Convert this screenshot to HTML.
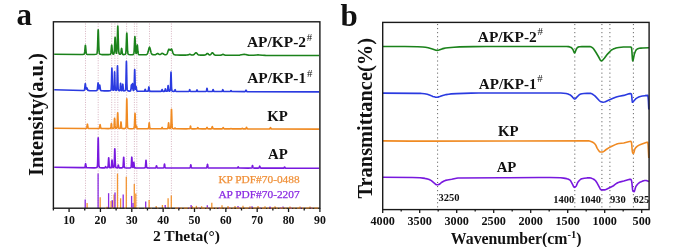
<!DOCTYPE html>
<html><head><meta charset="utf-8"><style>
html,body{margin:0;padding:0;background:#fff;}
svg{display:block;filter:blur(0.3px);}
text{font-family:"Liberation Serif",serif;}
</style></head><body>
<svg width="685" height="247" viewBox="0 0 685 247">
<rect width="685" height="247" fill="#fff"/>
<line x1="85.50" y1="23.5" x2="85.50" y2="207" stroke="#d2aab9" stroke-width="0.9" stroke-dasharray="1 1.45"/>
<line x1="98.20" y1="23.5" x2="98.20" y2="207" stroke="#d2aab9" stroke-width="0.9" stroke-dasharray="1 1.45"/>
<line x1="111.70" y1="23.5" x2="111.70" y2="207" stroke="#d2aab9" stroke-width="0.9" stroke-dasharray="1 1.45"/>
<line x1="114.90" y1="23.5" x2="114.90" y2="207" stroke="#d2aab9" stroke-width="0.9" stroke-dasharray="1 1.45"/>
<line x1="117.80" y1="23.5" x2="117.80" y2="207" stroke="#d2aab9" stroke-width="0.9" stroke-dasharray="1 1.45"/>
<line x1="126.60" y1="23.5" x2="126.60" y2="207" stroke="#d2aab9" stroke-width="0.9" stroke-dasharray="1 1.45"/>
<line x1="134.40" y1="23.5" x2="134.40" y2="207" stroke="#d2aab9" stroke-width="0.9" stroke-dasharray="1 1.45"/>
<line x1="136.80" y1="23.5" x2="136.80" y2="207" stroke="#d2aab9" stroke-width="0.9" stroke-dasharray="1 1.45"/>
<line x1="149.50" y1="23.5" x2="149.50" y2="207" stroke="#d2aab9" stroke-width="0.9" stroke-dasharray="1 1.45"/>
<line x1="171.40" y1="23.5" x2="171.40" y2="207" stroke="#d2aab9" stroke-width="0.9" stroke-dasharray="1 1.45"/>
<line x1="437.60" y1="24" x2="437.60" y2="208.5" stroke="#555" stroke-width="0.95" stroke-dasharray="1.1 2.95"/>
<line x1="574.80" y1="24" x2="574.80" y2="208.5" stroke="#555" stroke-width="0.95" stroke-dasharray="1.1 2.95"/>
<line x1="601.90" y1="24" x2="601.90" y2="208.5" stroke="#555" stroke-width="0.95" stroke-dasharray="1.1 2.95"/>
<line x1="609.90" y1="24" x2="609.90" y2="208.5" stroke="#555" stroke-width="0.95" stroke-dasharray="1.1 2.95"/>
<line x1="633.40" y1="24" x2="633.40" y2="208.5" stroke="#555" stroke-width="0.95" stroke-dasharray="1.1 2.95"/>
<line x1="87.10" y1="208.20" x2="87.10" y2="203.00" stroke="#f39433" stroke-width="1.3"/>
<line x1="100.20" y1="208.20" x2="100.20" y2="197.30" stroke="#f39433" stroke-width="1.3"/>
<line x1="107.10" y1="208.20" x2="107.10" y2="206.80" stroke="#f39433" stroke-width="1.3"/>
<line x1="111.10" y1="208.20" x2="111.10" y2="201.10" stroke="#f39433" stroke-width="1.3"/>
<line x1="114.10" y1="208.20" x2="114.10" y2="194.50" stroke="#f39433" stroke-width="1.3"/>
<line x1="117.50" y1="208.20" x2="117.50" y2="173.60" stroke="#f39433" stroke-width="1.3"/>
<line x1="120.60" y1="208.20" x2="120.60" y2="198.30" stroke="#f39433" stroke-width="1.3"/>
<line x1="126.30" y1="208.20" x2="126.30" y2="176.80" stroke="#f39433" stroke-width="1.3"/>
<line x1="134.30" y1="208.20" x2="134.30" y2="184.00" stroke="#f39433" stroke-width="1.3"/>
<line x1="135.80" y1="208.20" x2="135.80" y2="193.60" stroke="#f39433" stroke-width="1.3"/>
<line x1="149.10" y1="208.20" x2="149.10" y2="199.90" stroke="#f39433" stroke-width="1.3"/>
<line x1="156.20" y1="208.20" x2="156.20" y2="206.00" stroke="#f39433" stroke-width="1.3"/>
<line x1="162.40" y1="208.20" x2="162.40" y2="205.00" stroke="#f39433" stroke-width="1.3"/>
<line x1="168.10" y1="208.20" x2="168.10" y2="198.30" stroke="#f39433" stroke-width="1.3"/>
<line x1="171.30" y1="208.20" x2="171.30" y2="195.40" stroke="#f39433" stroke-width="1.3"/>
<line x1="192.20" y1="208.20" x2="192.20" y2="206.00" stroke="#f39433" stroke-width="1.3"/>
<line x1="196.40" y1="208.20" x2="196.40" y2="205.80" stroke="#f39433" stroke-width="1.3"/>
<line x1="201.60" y1="208.20" x2="201.60" y2="206.20" stroke="#f39433" stroke-width="1.3"/>
<line x1="211.80" y1="208.20" x2="211.80" y2="202.80" stroke="#f39433" stroke-width="1.3"/>
<line x1="222.00" y1="208.20" x2="222.00" y2="205.30" stroke="#f39433" stroke-width="1.3"/>
<line x1="228.00" y1="208.20" x2="228.00" y2="206.00" stroke="#f39433" stroke-width="1.3"/>
<line x1="235.00" y1="208.20" x2="235.00" y2="206.00" stroke="#f39433" stroke-width="1.3"/>
<line x1="243.00" y1="208.20" x2="243.00" y2="205.80" stroke="#f39433" stroke-width="1.3"/>
<line x1="250.00" y1="208.20" x2="250.00" y2="206.30" stroke="#f39433" stroke-width="1.3"/>
<line x1="258.00" y1="208.20" x2="258.00" y2="206.10" stroke="#f39433" stroke-width="1.3"/>
<line x1="265.00" y1="208.20" x2="265.00" y2="206.30" stroke="#f39433" stroke-width="1.3"/>
<line x1="275.00" y1="208.20" x2="275.00" y2="206.20" stroke="#f39433" stroke-width="1.3"/>
<line x1="290.00" y1="208.20" x2="290.00" y2="206.40" stroke="#f39433" stroke-width="1.3"/>
<line x1="300.00" y1="208.20" x2="300.00" y2="206.50" stroke="#f39433" stroke-width="1.3"/>
<line x1="310.00" y1="208.20" x2="310.00" y2="206.40" stroke="#f39433" stroke-width="1.3"/>
<line x1="85.20" y1="208.20" x2="85.20" y2="199.60" stroke="#8a2be2" stroke-width="1.3"/>
<line x1="98.10" y1="208.20" x2="98.10" y2="173.60" stroke="#8a2be2" stroke-width="1.3"/>
<line x1="108.60" y1="208.20" x2="108.60" y2="193.20" stroke="#8a2be2" stroke-width="1.3"/>
<line x1="112.40" y1="208.20" x2="112.40" y2="200.20" stroke="#8a2be2" stroke-width="1.3"/>
<line x1="115.00" y1="208.20" x2="115.00" y2="192.60" stroke="#8a2be2" stroke-width="1.3"/>
<line x1="123.20" y1="208.20" x2="123.20" y2="194.50" stroke="#8a2be2" stroke-width="1.3"/>
<line x1="131.60" y1="208.20" x2="131.60" y2="195.90" stroke="#8a2be2" stroke-width="1.3"/>
<line x1="133.00" y1="208.20" x2="133.00" y2="203.00" stroke="#8a2be2" stroke-width="1.3"/>
<line x1="145.70" y1="208.20" x2="145.70" y2="201.60" stroke="#8a2be2" stroke-width="1.3"/>
<line x1="165.20" y1="208.20" x2="165.20" y2="205.00" stroke="#8a2be2" stroke-width="1.3"/>
<line x1="191.10" y1="208.20" x2="191.10" y2="205.00" stroke="#8a2be2" stroke-width="1.3"/>
<line x1="207.30" y1="208.20" x2="207.30" y2="205.30" stroke="#8a2be2" stroke-width="1.3"/>
<line x1="238.00" y1="208.20" x2="238.00" y2="206.00" stroke="#8a2be2" stroke-width="1.3"/>
<line x1="252.00" y1="208.20" x2="252.00" y2="206.20" stroke="#8a2be2" stroke-width="1.3"/>
<line x1="270.00" y1="208.20" x2="270.00" y2="206.50" stroke="#8a2be2" stroke-width="1.3"/>
<line x1="283.00" y1="208.20" x2="283.00" y2="206.60" stroke="#8a2be2" stroke-width="1.3"/>
<path d="M54.20,54.31 L80.20,54.47 L82.88,54.41 L83.83,54.29 L84.03,54.20 L84.25,54.00 L84.45,53.47 L84.56,52.99 L84.77,51.40 L85.19,46.47 L85.30,45.61 L85.40,45.30 L85.50,45.62 L85.61,46.48 L86.14,52.32 L86.34,53.48 L86.45,53.80 L86.66,54.14 L86.87,54.27 L87.08,54.34 L88.20,54.46 L90.20,54.54 L94.20,54.56 L95.89,54.31 L96.52,54.09 L96.83,53.79 L97.05,53.22 L97.25,51.80 L97.36,50.50 L97.57,46.21 L97.99,32.87 L98.09,30.55 L98.20,29.70 L98.31,30.55 L98.41,32.88 L98.83,46.22 L99.04,50.51 L99.25,52.68 L99.46,53.59 L99.67,53.95 L99.98,54.17 L100.41,54.32 L102.20,54.61 L108.20,54.65 L109.81,54.51 L110.33,54.36 L110.55,54.14 L110.65,53.93 L110.86,53.10 L110.97,52.39 L111.49,46.32 L111.59,45.43 L111.70,45.10 L111.81,45.34 L111.91,46.23 L112.33,51.33 L112.58,53.17 L112.75,53.76 L112.96,54.08 L113.11,54.16 L113.31,54.18 L113.53,54.14 L113.73,54.01 L113.94,53.64 L114.11,52.93 L114.36,50.52 L114.89,39.45 L115.00,37.83 L115.10,37.28 L115.20,37.85 L115.28,38.90 L115.70,47.99 L115.91,51.11 L116.15,52.80 L116.25,53.10 L116.33,53.20 L116.44,53.21 L116.57,53.00 L116.75,52.16 L116.99,49.23 L117.20,43.96 L117.62,28.78 L117.69,27.03 L117.80,26.07 L117.91,27.05 L118.01,29.72 L118.53,47.89 L118.75,51.48 L118.85,52.47 L119.08,53.56 L119.19,53.78 L119.38,54.01 L119.61,54.15 L119.92,54.24 L120.23,54.25 L120.44,54.15 L120.66,53.82 L120.76,53.50 L120.97,52.43 L121.39,49.21 L121.50,48.62 L121.60,48.40 L121.70,48.62 L121.81,49.21 L122.33,53.23 L122.55,54.03 L122.75,54.39 L122.97,54.54 L123.39,54.63 L123.49,54.53 L124.28,54.50 L125.02,54.37 L125.22,54.27 L125.44,54.06 L125.64,53.57 L125.86,52.32 L126.06,49.58 L126.59,35.78 L126.69,33.75 L126.80,33.00 L126.91,33.75 L127.01,35.78 L127.53,49.59 L127.64,51.20 L127.85,53.09 L128.06,53.89 L128.20,54.12 L128.38,54.28 L128.90,54.50 L130.20,54.78 L132.38,54.63 L133.22,54.45 L133.43,54.33 L133.64,54.07 L133.85,53.41 L134.06,51.78 L134.20,49.89 L134.69,38.93 L134.79,37.23 L134.90,36.60 L134.99,37.06 L135.09,38.61 L135.62,50.09 L135.74,51.62 L135.95,53.10 L136.06,53.42 L136.15,53.52 L136.20,53.52 L136.35,53.24 L136.47,52.73 L136.69,51.08 L137.10,45.97 L137.21,45.15 L137.30,44.92 L137.41,45.27 L137.51,46.19 L137.93,51.44 L138.20,53.45 L138.35,54.08 L138.56,54.44 L138.88,54.62 L139.50,54.72 L142.20,54.81 L145.25,54.74 L146.25,54.63 L146.75,54.46 L147.00,54.29 L147.25,54.02 L147.50,53.62 L147.75,53.05 L148.20,51.56 L149.00,48.18 L149.25,47.46 L149.50,47.20 L149.75,47.46 L150.00,48.18 L151.00,52.31 L151.25,53.06 L151.60,53.81 L152.00,54.31 L152.35,54.53 L152.85,54.66 L153.75,54.75 L154.85,54.75 L155.60,54.61 L156.10,54.37 L157.10,53.61 L157.40,53.46 L157.70,53.47 L158.00,53.58 L158.85,54.21 L159.20,54.41 L159.50,54.51 L159.85,54.52 L160.40,54.36 L160.85,54.09 L161.60,53.54 L161.90,53.39 L162.20,53.34 L162.60,53.43 L163.90,54.28 L164.60,54.59 L165.40,54.70 L165.75,54.68 L166.10,54.61 L166.40,54.47 L166.65,54.28 L166.90,54.00 L167.15,53.59 L167.60,52.52 L168.40,50.06 L168.65,49.50 L168.80,49.29 L169.00,49.18 L169.15,49.23 L169.90,50.12 L170.20,50.23 L170.50,50.06 L171.15,49.15 L171.40,49.01 L171.50,49.03 L171.65,49.17 L171.90,49.66 L173.00,53.04 L173.40,53.88 L173.75,54.34 L174.15,54.63 L174.65,54.80 L175.25,54.88 L177.00,55.00 L180.20,55.08 L185.70,55.10 L186.95,55.06 L187.95,54.91 L189.20,54.38 L189.70,54.27 L190.20,54.38 L190.95,54.72 L191.50,54.91 L192.10,55.00 L192.70,54.99 L193.30,54.86 L193.90,54.56 L194.45,54.07 L195.45,52.96 L195.70,52.78 L196.00,52.69 L196.30,52.78 L196.60,53.01 L197.50,54.05 L198.10,54.60 L198.70,54.92 L199.30,55.06 L200.50,55.13 L202.90,55.16 L204.20,55.14 L204.90,55.05 L205.65,54.79 L206.15,54.41 L206.90,53.69 L207.15,53.53 L207.40,53.47 L207.65,53.52 L207.90,53.68 L208.65,54.38 L209.15,54.73 L209.65,54.89 L209.90,54.90 L210.20,54.83 L210.65,54.57 L211.15,54.03 L211.90,53.00 L212.15,52.76 L212.40,52.68 L212.65,52.77 L212.90,53.01 L213.90,54.37 L214.40,54.81 L214.65,54.94 L215.15,55.09 L216.40,55.18 L219.50,55.21 L220.75,55.14 L221.50,54.93 L222.50,54.42 L223.00,54.30 L223.50,54.42 L224.50,54.93 L225.00,55.10 L225.75,55.21 L227.00,55.24 L234.20,55.27 L237.95,55.22 L239.82,55.08 L243.00,54.50 L244.20,54.40 L245.45,54.51 L247.38,54.90 L248.57,55.09 L249.82,55.21 L251.12,55.26 L253.57,55.21 L256.75,54.94 L258.00,54.89 L259.20,54.95 L262.38,55.24 L265.50,55.35 L319.10,55.50" fill="none" stroke="#1b821b" stroke-width="1.6" stroke-linejoin="round"/>
<path d="M54.20,89.82 L82.20,90.53 L83.21,90.48 L83.88,90.40 L84.06,90.34 L84.25,90.18 L84.42,89.85 L84.54,89.43 L84.76,87.96 L85.11,84.53 L85.21,83.84 L85.30,83.63 L85.44,84.10 L85.87,88.01 L86.06,88.95 L86.20,89.15 L86.34,89.03 L86.72,88.05 L86.82,87.91 L86.92,87.88 L87.11,88.19 L87.69,89.95 L87.80,90.15 L88.03,90.39 L88.36,90.56 L89.60,90.63 L94.20,90.71 L96.48,90.61 L96.86,90.46 L97.06,90.28 L97.25,89.84 L97.34,89.43 L97.53,88.08 L97.91,83.90 L98.00,83.17 L98.10,82.89 L98.19,83.14 L98.29,83.85 L98.67,87.77 L98.86,88.71 L98.95,88.78 L99.10,88.40 L99.53,85.58 L99.62,85.17 L99.72,85.07 L99.80,85.27 L99.90,85.81 L100.40,89.39 L100.60,90.11 L100.70,90.31 L100.90,90.52 L101.20,90.67 L102.20,90.77 L104.20,90.84 L108.20,90.89 L110.10,90.71 L110.40,90.62 L110.78,90.41 L111.00,89.99 L111.15,89.17 L111.22,88.37 L111.45,83.24 L111.75,71.01 L111.83,68.88 L111.90,68.10 L111.97,68.88 L112.05,71.02 L112.42,85.38 L112.58,88.25 L112.72,89.54 L112.88,90.03 L113.03,90.21 L113.33,90.30 L113.55,90.21 L113.70,89.97 L113.78,89.72 L113.92,88.65 L114.08,86.25 L114.45,74.24 L114.53,72.46 L114.60,71.80 L114.67,72.46 L114.75,74.25 L115.05,84.52 L115.28,88.68 L115.42,89.76 L115.58,90.17 L115.70,90.30 L115.85,90.37 L116.22,90.34 L116.40,90.23 L116.53,90.04 L116.67,89.49 L116.83,88.07 L116.90,86.77 L117.05,82.55 L117.35,69.10 L117.42,66.76 L117.50,65.90 L117.58,66.76 L117.65,69.10 L118.03,85.03 L118.17,88.20 L118.25,89.04 L118.40,89.95 L118.47,90.16 L118.62,90.40 L118.85,90.56 L119.17,90.66 L119.40,90.67 L119.62,90.62 L119.78,90.46 L119.92,90.16 L120.15,88.43 L120.45,84.25 L120.53,83.53 L120.60,83.26 L120.67,83.52 L120.75,84.24 L121.12,89.13 L121.28,90.10 L121.42,90.52 L121.53,90.64 L121.65,90.70 L121.90,90.65 L122.05,90.42 L122.17,89.98 L122.35,88.68 L122.65,85.02 L122.72,84.38 L122.80,84.15 L122.88,84.39 L122.95,85.04 L123.33,89.44 L123.55,90.55 L123.70,90.80 L124.00,90.95 L124.08,90.80 L124.53,90.77 L124.90,90.67 L125.20,90.52 L125.28,90.43 L125.42,90.15 L125.50,89.89 L125.65,88.82 L125.72,87.78 L125.95,81.11 L126.25,65.19 L126.33,62.42 L126.40,61.40 L126.47,62.42 L126.55,65.19 L126.92,84.04 L127.15,88.83 L127.30,89.91 L127.45,90.34 L127.60,90.55 L127.83,90.71 L128.20,90.87 L129.60,91.09 L130.05,91.06 L130.43,90.92 L130.57,90.77 L130.72,90.42 L130.93,89.25 L131.25,85.74 L131.32,85.16 L131.40,84.93 L131.45,85.00 L131.53,85.42 L131.82,88.08 L131.90,88.34 L131.93,88.36 L131.97,88.29 L132.12,87.27 L132.38,84.16 L132.50,83.53 L132.60,83.98 L132.95,88.43 L133.12,89.82 L133.25,90.28 L133.43,90.50 L133.55,90.51 L133.65,90.44 L133.85,90.00 L134.03,88.67 L134.18,85.95 L134.55,72.25 L134.62,70.24 L134.70,69.49 L134.78,70.23 L134.85,72.24 L135.20,85.25 L135.30,87.41 L135.43,88.86 L135.53,89.24 L135.57,89.23 L135.65,89.02 L135.97,86.92 L136.05,86.63 L136.10,86.59 L136.12,86.62 L136.25,87.20 L136.50,89.24 L136.70,90.37 L136.93,90.87 L137.07,90.99 L137.15,91.13 L137.38,91.17 L138.20,91.23 L142.20,91.30 L143.78,91.29 L144.30,91.25 L144.53,91.10 L144.68,90.85 L145.05,89.56 L145.12,89.37 L145.20,89.30 L145.35,89.56 L145.72,90.86 L145.95,91.19 L146.18,91.29 L146.47,91.32 L147.62,91.29 L147.93,91.23 L148.07,91.13 L148.20,90.94 L148.38,90.31 L148.75,87.47 L148.82,87.05 L148.90,86.90 L148.97,87.05 L149.05,87.47 L149.35,89.88 L149.50,90.66 L149.72,91.15 L150.00,91.29 L150.62,91.36 L152.20,91.40 L158.20,91.42 L161.12,91.36 L161.35,91.28 L161.57,90.97 L161.95,89.75 L162.10,89.50 L162.25,89.75 L162.62,90.97 L162.85,91.28 L163.00,91.35 L163.30,91.37 L164.35,91.35 L164.57,91.29 L164.80,91.00 L164.95,90.55 L165.25,89.14 L165.32,88.89 L165.40,88.80 L165.47,88.89 L165.55,89.14 L165.93,90.77 L166.07,91.10 L166.20,91.23 L166.38,91.30 L166.97,91.28 L167.12,91.23 L167.28,91.10 L167.43,90.77 L167.50,90.46 L167.65,89.46 L167.95,86.34 L168.03,85.80 L168.10,85.60 L168.18,85.80 L168.25,86.35 L168.55,89.48 L168.78,90.67 L168.93,90.99 L169.07,91.10 L169.43,91.13 L169.80,91.01 L170.03,90.78 L170.18,90.35 L170.32,89.25 L170.40,88.24 L170.55,84.94 L170.85,74.57 L170.93,72.76 L171.00,72.10 L171.07,72.76 L171.15,74.57 L171.53,86.84 L171.75,89.96 L171.90,90.66 L172.12,91.02 L172.35,91.15 L172.65,91.25 L173.38,91.33 L173.45,91.43 L174.12,91.39 L174.43,91.25 L174.65,90.83 L174.95,89.84 L175.10,89.60 L175.25,89.84 L175.55,90.83 L175.70,91.15 L175.85,91.31 L176.15,91.41 L178.20,91.46 L186.20,91.48 L188.65,91.44 L188.95,91.34 L189.10,91.18 L189.25,90.85 L189.55,89.84 L189.70,89.60 L189.85,89.84 L190.15,90.85 L190.30,91.18 L190.45,91.34 L190.75,91.44 L194.20,91.50 L196.10,91.44 L196.32,91.32 L196.47,91.12 L196.85,90.10 L197.00,89.90 L197.15,90.11 L197.53,91.12 L197.75,91.38 L197.97,91.46 L200.20,91.51 L204.20,91.52 L205.80,91.46 L206.18,91.35 L206.40,91.00 L206.55,90.44 L206.85,88.71 L206.93,88.41 L207.00,88.30 L207.07,88.41 L207.15,88.71 L207.45,90.44 L207.68,91.17 L207.82,91.35 L207.97,91.43 L208.80,91.50 L211.45,91.52 L212.05,91.48 L212.28,91.43 L212.43,91.31 L212.57,91.05 L212.95,89.76 L213.03,89.57 L213.10,89.50 L213.18,89.57 L213.25,89.76 L213.55,90.85 L213.78,91.31 L213.93,91.43 L214.07,91.48 L214.90,91.53 L220.20,91.56 L221.90,91.48 L222.12,91.34 L222.28,91.09 L222.65,89.85 L222.80,89.60 L222.95,89.85 L223.25,90.90 L223.47,91.34 L223.78,91.50 L224.53,91.55 L228.20,91.57 L230.10,91.53 L230.32,91.46 L230.47,91.32 L230.85,90.64 L231.00,90.50 L231.15,90.64 L231.45,91.22 L231.60,91.40 L231.75,91.50 L232.05,91.55 L244.88,91.59 L245.18,91.54 L245.40,91.39 L245.55,91.14 L245.85,90.38 L246.00,90.20 L246.15,90.38 L246.45,91.15 L246.68,91.47 L246.97,91.58 L247.57,91.61 L319.10,91.90" fill="none" stroke="#2a3ae0" stroke-width="1.6" stroke-linejoin="round"/>
<path d="M54.20,128.30 L84.20,128.46 L86.20,128.38 L86.42,128.33 L86.58,128.23 L86.80,127.76 L86.95,127.00 L87.25,124.66 L87.33,124.25 L87.40,124.10 L87.47,124.25 L87.55,124.66 L87.85,127.01 L88.00,127.76 L88.20,128.21 L88.30,128.30 L88.53,128.38 L90.20,128.49 L96.20,128.52 L98.38,128.49 L99.12,128.41 L99.35,128.23 L99.58,127.60 L99.95,125.10 L100.03,124.73 L100.10,124.60 L100.17,124.74 L100.25,125.10 L100.62,127.61 L100.85,128.24 L101.08,128.42 L101.83,128.51 L104.20,128.56 L108.20,128.58 L109.97,128.52 L110.28,128.48 L110.50,128.39 L110.65,128.20 L110.72,128.03 L110.95,126.88 L111.25,124.15 L111.33,123.67 L111.40,123.50 L111.47,123.68 L111.55,124.15 L111.85,126.89 L112.08,128.03 L112.15,128.21 L112.45,128.41 L112.83,128.44 L113.25,128.41 L113.55,128.31 L113.78,128.02 L113.92,127.46 L114.00,126.92 L114.15,125.14 L114.45,119.62 L114.53,118.65 L114.60,118.30 L114.67,118.65 L114.75,119.62 L115.05,125.15 L115.28,127.47 L115.42,127.97 L115.58,128.19 L115.90,128.31 L116.35,128.28 L116.65,128.14 L116.80,127.92 L116.88,127.71 L117.03,126.86 L117.10,126.03 L117.25,123.30 L117.55,114.82 L117.62,113.34 L117.70,112.80 L117.78,113.34 L117.85,114.82 L118.22,124.87 L118.38,126.87 L118.45,127.42 L118.60,127.99 L118.75,128.18 L118.90,128.29 L119.42,128.41 L119.95,128.38 L120.17,128.28 L120.25,128.13 L120.47,127.04 L120.85,122.76 L120.92,122.13 L121.00,121.90 L121.08,122.13 L121.15,122.76 L121.53,127.05 L121.67,127.90 L121.83,128.29 L122.05,128.48 L122.35,128.55 L124.20,128.67 L125.22,128.33 L125.60,128.09 L125.83,127.72 L125.97,127.05 L126.12,125.34 L126.35,118.62 L126.65,102.61 L126.72,99.82 L126.80,98.80 L126.88,99.82 L126.95,102.61 L127.33,121.57 L127.47,125.34 L127.62,127.05 L127.70,127.47 L127.85,127.90 L128.15,128.22 L128.60,128.42 L130.20,128.70 L132.20,128.71 L133.43,128.54 L133.72,128.45 L133.95,128.31 L134.10,128.09 L134.18,127.86 L134.32,126.98 L134.47,125.03 L134.85,115.24 L134.93,113.80 L135.00,113.27 L135.07,113.79 L135.15,115.23 L135.53,124.98 L135.60,126.10 L135.75,127.35 L135.82,127.61 L135.90,127.70 L135.97,127.66 L136.12,127.27 L136.35,126.37 L136.43,126.17 L136.50,126.10 L136.65,126.45 L137.03,128.04 L137.18,128.37 L137.40,128.64 L138.07,128.71 L140.20,128.75 L146.20,128.78 L147.62,128.72 L148.20,128.61 L148.38,128.46 L148.45,128.33 L148.60,127.81 L148.75,126.78 L149.05,123.56 L149.12,123.01 L149.20,122.80 L149.28,123.01 L149.35,123.57 L149.65,126.78 L149.80,127.82 L150.00,128.43 L150.10,128.56 L150.32,128.67 L150.85,128.74 L152.20,128.80 L158.20,128.81 L161.12,128.77 L161.35,128.71 L161.57,128.48 L161.95,127.58 L162.10,127.40 L162.25,127.58 L162.62,128.48 L162.78,128.66 L163.00,128.76 L166.20,128.82 L167.55,128.66 L167.70,128.58 L167.85,128.36 L168.00,127.83 L168.15,126.80 L168.45,123.57 L168.53,123.01 L168.60,122.80 L168.68,123.01 L168.75,123.57 L169.05,126.80 L169.28,128.03 L169.43,128.36 L169.57,128.48 L169.88,128.51 L170.25,128.41 L170.40,128.31 L170.53,128.15 L170.68,127.71 L170.82,126.60 L170.90,125.57 L171.05,122.22 L171.35,111.70 L171.43,109.87 L171.50,109.20 L171.57,109.87 L171.65,111.70 L172.03,124.16 L172.25,127.32 L172.40,128.03 L172.62,128.39 L173.07,128.60 L173.88,128.71 L173.95,128.81 L174.20,128.78 L174.40,128.69 L174.55,128.55 L174.85,128.11 L175.00,128.00 L175.15,128.11 L175.45,128.55 L175.60,128.70 L175.75,128.77 L176.05,128.81 L186.20,128.85 L188.70,128.82 L189.45,128.78 L189.75,128.64 L189.90,128.40 L190.05,127.92 L190.35,126.45 L190.43,126.19 L190.50,126.10 L190.57,126.19 L190.65,126.45 L190.95,127.93 L191.18,128.54 L191.32,128.70 L191.47,128.76 L192.30,128.83 L194.20,128.86 L196.90,128.80 L197.12,128.71 L197.28,128.54 L197.65,127.67 L197.80,127.50 L197.95,127.67 L198.32,128.54 L198.47,128.71 L198.70,128.81 L202.20,128.87 L205.95,128.83 L206.20,128.78 L206.40,128.63 L206.55,128.38 L206.85,127.59 L207.00,127.40 L207.15,127.59 L207.53,128.52 L207.68,128.71 L207.82,128.79 L208.80,128.86 L211.18,128.83 L211.47,128.75 L211.70,128.50 L211.85,128.11 L212.15,126.89 L212.22,126.68 L212.30,126.60 L212.38,126.68 L212.45,126.89 L212.75,128.11 L212.97,128.62 L213.12,128.75 L213.28,128.81 L214.10,128.86 L220.20,128.89 L222.22,128.85 L222.45,128.78 L222.68,128.56 L223.05,127.68 L223.20,127.50 L223.35,127.68 L223.65,128.42 L223.80,128.66 L224.03,128.82 L224.32,128.86 L230.10,128.88 L230.47,128.81 L230.85,128.55 L231.00,128.50 L231.15,128.55 L231.53,128.81 L231.97,128.89 L241.25,128.91 L241.70,128.82 L242.15,128.38 L242.30,128.30 L242.45,128.38 L242.82,128.78 L243.05,128.88 L243.95,128.92 L245.30,128.90 L245.68,128.85 L245.90,128.67 L246.05,128.38 L246.35,127.51 L246.50,127.30 L246.65,127.51 L246.95,128.39 L247.18,128.76 L247.47,128.89 L248.07,128.92 L269.38,128.96 L269.68,128.91 L269.90,128.76 L270.05,128.52 L270.35,127.78 L270.50,127.60 L270.65,127.78 L270.95,128.52 L271.10,128.76 L271.32,128.92 L271.85,128.97 L319.10,129.10" fill="none" stroke="#f08a22" stroke-width="1.6" stroke-linejoin="round"/>
<path d="M54.20,167.31 L82.20,167.67 L84.40,167.62 L84.62,167.57 L84.78,167.48 L85.00,167.05 L85.15,166.36 L85.45,164.21 L85.53,163.84 L85.60,163.70 L85.67,163.84 L85.75,164.21 L86.12,166.77 L86.35,167.42 L86.58,167.60 L87.03,167.68 L88.20,167.75 L94.20,167.83 L96.20,167.63 L96.55,167.54 L96.85,167.39 L97.15,167.08 L97.30,166.64 L97.38,166.23 L97.53,164.51 L97.60,162.94 L97.75,157.75 L98.05,141.64 L98.12,138.83 L98.20,137.80 L98.28,138.83 L98.35,141.64 L98.65,157.76 L98.88,164.52 L99.03,166.25 L99.17,166.93 L99.33,167.22 L99.55,167.43 L99.85,167.58 L100.20,167.68 L102.20,167.90 L104.70,167.85 L104.92,167.76 L105.08,167.60 L105.45,166.77 L105.60,166.60 L105.75,166.77 L106.05,167.47 L106.28,167.76 L106.65,167.80 L107.12,167.78 L107.50,167.70 L107.72,167.58 L107.88,167.35 L108.03,166.78 L108.17,165.50 L108.55,159.09 L108.62,158.15 L108.70,157.80 L108.78,158.15 L108.85,159.09 L109.22,165.51 L109.38,166.78 L109.45,167.14 L109.60,167.50 L109.83,167.64 L110.05,167.70 L110.72,167.71 L111.03,167.61 L111.17,167.48 L111.25,167.31 L111.47,166.03 L111.85,161.01 L111.92,160.27 L112.00,160.00 L112.08,160.27 L112.15,161.01 L112.53,165.92 L112.67,166.91 L112.83,167.34 L113.05,167.53 L113.28,167.55 L113.50,167.50 L113.67,167.41 L113.80,167.28 L113.97,166.82 L114.05,166.39 L114.20,164.74 L114.35,161.44 L114.65,151.24 L114.72,149.46 L114.80,148.80 L114.88,149.46 L114.95,151.24 L115.33,163.37 L115.55,166.45 L115.70,167.15 L115.85,167.42 L116.08,167.57 L116.30,167.66 L116.72,167.74 L117.17,167.76 L117.25,167.85 L117.55,167.70 L117.70,167.44 L117.85,166.94 L118.15,165.37 L118.22,165.10 L118.30,165.00 L118.38,165.10 L118.45,165.37 L118.83,167.23 L118.97,167.60 L119.12,167.77 L119.42,167.86 L120.20,167.90 L121.90,167.83 L122.50,167.72 L122.65,167.65 L122.80,167.50 L122.95,167.11 L123.03,166.73 L123.17,165.38 L123.55,158.57 L123.62,157.57 L123.70,157.20 L123.78,157.57 L123.85,158.57 L124.22,165.38 L124.38,166.73 L124.45,167.11 L124.60,167.50 L124.75,167.65 L124.97,167.75 L126.20,167.94 L128.20,167.94 L130.00,167.85 L130.45,167.78 L130.75,167.66 L130.90,167.51 L131.05,167.12 L131.20,166.18 L131.35,164.33 L131.65,158.54 L131.72,157.53 L131.80,157.16 L131.88,157.52 L131.95,158.52 L132.32,165.31 L132.45,166.49 L132.60,167.18 L132.75,167.43 L132.93,167.46 L133.07,167.28 L133.20,166.88 L133.38,165.74 L133.65,163.02 L133.72,162.51 L133.80,162.32 L133.88,162.52 L133.95,163.04 L134.25,166.08 L134.47,167.33 L134.62,167.64 L134.78,167.77 L135.00,167.84 L135.53,167.89 L138.20,167.95 L142.20,167.96 L144.28,167.89 L144.80,167.81 L145.03,167.72 L145.18,167.54 L145.25,167.37 L145.47,166.14 L145.85,161.28 L145.93,160.56 L146.00,160.30 L146.07,160.56 L146.15,161.28 L146.53,166.14 L146.75,167.37 L146.90,167.65 L147.12,167.79 L147.50,167.87 L148.20,167.92 L152.20,167.97 L154.85,167.95 L155.60,167.89 L155.82,167.73 L155.97,167.46 L156.35,166.08 L156.43,165.87 L156.50,165.80 L156.57,165.87 L156.65,166.08 L157.03,167.46 L157.18,167.73 L157.40,167.89 L158.07,167.95 L160.20,167.98 L162.70,167.95 L163.45,167.88 L163.60,167.82 L163.75,167.68 L163.90,167.33 L164.05,166.65 L164.35,164.51 L164.43,164.14 L164.50,164.00 L164.57,164.14 L164.65,164.51 L164.95,166.65 L165.18,167.54 L165.32,167.77 L165.47,167.86 L166.30,167.95 L168.20,167.99 L188.20,168.02 L189.68,167.95 L189.97,167.85 L190.20,167.49 L190.35,166.94 L190.65,165.21 L190.72,164.91 L190.80,164.80 L190.88,164.91 L190.95,165.21 L191.25,166.94 L191.40,167.50 L191.55,167.78 L191.70,167.89 L191.85,167.94 L194.20,168.03 L204.20,168.04 L206.20,167.98 L206.53,167.93 L206.68,167.84 L206.90,167.43 L207.05,166.79 L207.35,164.78 L207.43,164.43 L207.50,164.30 L207.57,164.43 L207.65,164.78 L208.03,167.16 L208.25,167.76 L208.40,167.90 L208.62,167.96 L210.20,168.05 L237.00,168.06 L237.38,168.02 L237.60,167.88 L237.75,167.65 L238.05,166.96 L238.20,166.80 L238.35,166.96 L238.65,167.66 L238.80,167.88 L238.95,167.99 L239.25,168.06 L248.20,168.10 L251.15,168.07 L251.68,167.96 L251.90,167.68 L252.05,167.23 L252.35,165.83 L252.43,165.59 L252.50,165.50 L252.57,165.59 L252.65,165.83 L252.95,167.23 L253.18,167.82 L253.40,168.00 L254.00,168.08 L256.20,168.11 L258.20,168.09 L258.80,168.04 L259.02,167.90 L259.18,167.66 L259.55,166.44 L259.70,166.20 L259.85,166.44 L260.20,167.60 L260.38,167.90 L260.60,168.04 L261.20,168.10 L283.48,168.12 L283.77,168.09 L284.00,167.96 L284.15,167.76 L284.45,167.15 L284.60,167.00 L284.75,167.15 L285.05,167.76 L285.20,167.96 L285.43,168.09 L285.88,168.13 L319.10,168.20" fill="none" stroke="#7818de" stroke-width="1.6" stroke-linejoin="round"/>
<path d="M382.70,46.50 L404.74,46.53 L417.72,46.76 L422.77,46.95 L425.46,47.26 L428.15,47.73 L432.39,48.92 L435.93,50.17 L436.71,50.34 L437.50,50.40 L438.25,50.32 L439.00,50.10 L441.25,49.15 L442.00,48.90 L444.00,48.39 L445.60,48.06 L448.00,47.77 L454.00,47.26 L459.60,46.91 L473.20,46.63 L486.40,46.51 L566.50,46.53 L568.40,46.64 L569.60,46.89 L570.64,47.26 L571.60,47.90 L572.35,48.75 L573.10,49.90 L574.23,52.63 L574.60,53.00 L574.92,52.68 L575.90,50.20 L576.88,48.21 L577.20,47.80 L577.56,47.50 L578.28,47.03 L578.64,46.88 L579.80,46.73 L581.80,46.62 L590.00,46.60 L590.75,46.74 L591.50,47.11 L593.00,48.20 L593.71,48.96 L595.86,52.26 L598.40,56.50 L600.21,59.91 L600.57,60.43 L600.94,60.77 L601.30,60.90 L601.66,60.83 L602.02,60.65 L602.75,60.03 L604.56,58.00 L606.74,55.05 L607.50,54.13 L610.19,51.25 L611.27,50.20 L612.00,49.70 L613.20,49.10 L614.80,48.42 L616.00,48.03 L617.20,47.74 L618.78,47.49 L621.11,47.22 L623.44,47.04 L630.50,47.00 L630.83,47.07 L631.17,47.28 L631.50,47.60 L631.80,49.87 L632.40,58.88 L632.70,60.90 L633.06,60.30 L633.42,58.80 L634.14,54.99 L634.50,53.60 L635.64,50.80 L636.02,50.14 L636.40,49.70 L637.12,49.17 L637.85,48.76 L638.57,48.47 L639.30,48.30 L640.87,48.10 L642.83,47.95 L649.10,47.80" fill="none" stroke="#1b821b" stroke-width="1.6" stroke-linejoin="round"/>
<path d="M382.70,93.10 L417.63,93.37 L420.38,93.41 L421.91,93.49 L424.59,93.80 L427.30,94.28 L430.10,95.25 L432.10,96.12 L432.90,96.40 L435.24,97.09 L436.02,97.24 L436.80,97.30 L437.91,97.14 L439.77,96.58 L442.70,95.40 L444.57,94.91 L446.07,94.59 L448.80,94.17 L451.20,93.89 L456.58,93.61 L471.20,93.14 L478.80,93.00 L560.77,93.01 L563.46,93.22 L566.15,93.58 L568.08,94.06 L569.62,94.63 L570.40,95.04 L570.80,95.36 L572.39,96.89 L573.54,98.27 L573.93,98.64 L574.31,98.90 L574.70,99.00 L575.08,98.90 L575.47,98.63 L576.62,97.38 L579.25,94.78 L580.00,94.30 L580.80,93.98 L582.00,93.70 L583.93,93.53 L587.01,93.36 L590.10,93.30 L590.85,93.40 L591.96,93.86 L593.08,94.54 L594.60,95.60 L595.40,96.35 L599.23,100.48 L599.97,101.16 L600.33,101.42 L601.90,102.01 L603.10,102.20 L604.24,102.05 L605.38,101.68 L608.42,100.26 L612.49,98.55 L615.60,97.30 L617.20,96.73 L619.16,96.25 L623.79,95.41 L628.85,93.84 L630.02,93.64 L630.80,93.60 L631.15,93.86 L631.50,94.50 L631.80,96.81 L632.10,100.42 L632.40,102.30 L632.72,102.19 L633.04,101.89 L634.00,100.70 L635.60,98.93 L636.00,98.60 L637.17,97.84 L638.74,97.04 L640.30,96.50 L642.27,96.08 L645.02,95.67 L647.80,95.40 L648.10,97.20 L648.40,101.00 L648.80,109.50" fill="none" stroke="#2a3ae0" stroke-width="1.6" stroke-linejoin="round"/>
<path d="M382.70,140.90 L410.08,141.08 L426.00,141.10 L588.70,140.80 L589.46,140.92 L591.69,141.72 L593.14,142.47 L594.30,143.34 L595.50,144.70 L595.88,145.34 L597.02,147.91 L597.40,148.60 L598.85,150.85 L599.57,151.68 L599.94,151.91 L600.30,152.00 L602.30,152.00 L602.69,151.95 L603.08,151.82 L603.86,151.36 L606.20,149.50 L609.10,147.60 L611.83,146.22 L615.31,144.63 L616.85,144.01 L617.62,143.79 L618.77,143.56 L623.79,142.93 L628.46,141.70 L629.63,141.48 L630.80,141.40 L631.15,141.72 L631.50,142.50 L631.80,145.10 L632.10,149.26 L632.40,151.90 L632.73,152.73 L633.07,153.29 L633.40,153.50 L633.72,153.08 L634.04,152.05 L634.68,149.52 L635.00,148.70 L636.07,147.30 L637.13,146.31 L638.60,145.37 L640.60,144.46 L646.20,142.46 L647.00,142.27 L647.80,142.20 L648.10,144.90 L648.80,158.00" fill="none" stroke="#f08a22" stroke-width="1.6" stroke-linejoin="round"/>
<path d="M382.70,177.30 L412.40,177.54 L420.00,177.80 L423.07,178.10 L424.99,178.41 L427.30,178.90 L428.50,179.27 L429.70,179.78 L430.90,180.40 L431.64,180.87 L436.07,184.53 L436.43,184.73 L436.80,184.80 L437.90,184.68 L439.00,184.40 L439.36,184.25 L440.09,183.74 L441.17,182.75 L441.90,182.20 L444.06,180.97 L445.50,180.40 L447.43,179.95 L451.70,179.23 L456.44,178.27 L458.02,178.03 L459.21,177.93 L502.40,177.79 L538.80,177.50 L549.90,177.57 L560.58,177.81 L563.62,178.11 L566.65,178.66 L567.76,178.99 L568.51,179.28 L570.00,180.10 L570.40,180.49 L570.80,181.08 L572.80,184.87 L573.60,186.56 L574.00,187.16 L574.40,187.40 L574.72,187.33 L575.04,187.14 L576.00,186.20 L576.40,185.58 L577.60,182.78 L578.00,182.10 L579.56,180.27 L580.73,179.25 L581.51,178.82 L581.90,178.70 L584.24,178.25 L586.97,177.92 L589.70,177.80 L590.79,177.98 L592.96,178.87 L593.69,179.27 L594.41,179.76 L595.50,180.70 L595.86,181.11 L596.59,182.23 L598.76,186.13 L600.21,188.91 L600.57,189.43 L600.94,189.77 L601.30,189.90 L604.58,189.88 L605.33,189.73 L606.46,189.31 L611.05,187.07 L613.00,186.00 L614.15,185.22 L616.85,183.21 L617.62,182.77 L618.39,182.45 L620.31,181.86 L623.79,180.99 L628.07,179.69 L629.63,179.38 L630.80,179.30 L631.07,179.55 L631.60,181.00 L631.92,183.11 L632.58,189.56 L632.90,191.10 L633.27,191.37 L633.63,191.54 L634.00,191.60 L634.40,191.15 L634.80,190.02 L635.60,187.24 L636.00,186.30 L636.78,185.20 L637.56,184.25 L638.35,183.46 L639.52,182.54 L640.67,181.92 L642.53,181.12 L643.64,180.76 L644.76,180.55 L645.50,180.50 L646.22,180.56 L646.94,180.73 L649.10,181.40" fill="none" stroke="#7818de" stroke-width="1.6" stroke-linejoin="round"/>
<rect x="53.4" y="21.8" width="266.50" height="186.40" fill="none" stroke="#1a1a1a" stroke-width="1.4"/>
<rect x="382.7" y="22.4" width="266.40" height="187.20" fill="none" stroke="#1a1a1a" stroke-width="1.4"/>
<line x1="175" y1="208.0" x2="318.9" y2="208.0" stroke="#f39433" stroke-width="1.2" stroke-dasharray="4 1.2 2 1.5"/>
<line x1="178" y1="208.0" x2="318.9" y2="208.0" stroke="#8a2be2" stroke-width="0.9" stroke-dasharray="1.2 9" opacity="0.8"/>
<line x1="105" y1="208.0" x2="175" y2="208.0" stroke="#f39433" stroke-width="0.9" stroke-dasharray="1.5 5" opacity="0.7"/>
<line x1="53.40" y1="208.2" x2="53.40" y2="210.5" stroke="#1a1a1a" stroke-width="1.3"/>
<line x1="69.08" y1="208.2" x2="69.08" y2="212.0" stroke="#1a1a1a" stroke-width="1.3"/>
<line x1="84.75" y1="208.2" x2="84.75" y2="210.5" stroke="#1a1a1a" stroke-width="1.3"/>
<line x1="100.43" y1="208.2" x2="100.43" y2="212.0" stroke="#1a1a1a" stroke-width="1.3"/>
<line x1="116.11" y1="208.2" x2="116.11" y2="210.5" stroke="#1a1a1a" stroke-width="1.3"/>
<line x1="131.78" y1="208.2" x2="131.78" y2="212.0" stroke="#1a1a1a" stroke-width="1.3"/>
<line x1="147.46" y1="208.2" x2="147.46" y2="210.5" stroke="#1a1a1a" stroke-width="1.3"/>
<line x1="163.14" y1="208.2" x2="163.14" y2="212.0" stroke="#1a1a1a" stroke-width="1.3"/>
<line x1="178.81" y1="208.2" x2="178.81" y2="210.5" stroke="#1a1a1a" stroke-width="1.3"/>
<line x1="194.49" y1="208.2" x2="194.49" y2="212.0" stroke="#1a1a1a" stroke-width="1.3"/>
<line x1="210.16" y1="208.2" x2="210.16" y2="210.5" stroke="#1a1a1a" stroke-width="1.3"/>
<line x1="225.84" y1="208.2" x2="225.84" y2="212.0" stroke="#1a1a1a" stroke-width="1.3"/>
<line x1="241.52" y1="208.2" x2="241.52" y2="210.5" stroke="#1a1a1a" stroke-width="1.3"/>
<line x1="257.19" y1="208.2" x2="257.19" y2="212.0" stroke="#1a1a1a" stroke-width="1.3"/>
<line x1="272.87" y1="208.2" x2="272.87" y2="210.5" stroke="#1a1a1a" stroke-width="1.3"/>
<line x1="288.55" y1="208.2" x2="288.55" y2="212.0" stroke="#1a1a1a" stroke-width="1.3"/>
<line x1="304.22" y1="208.2" x2="304.22" y2="210.5" stroke="#1a1a1a" stroke-width="1.3"/>
<line x1="319.90" y1="208.2" x2="319.90" y2="212.0" stroke="#1a1a1a" stroke-width="1.3"/>
<line x1="641.70" y1="209.6" x2="641.70" y2="213.0" stroke="#1a1a1a" stroke-width="1.3"/>
<line x1="623.20" y1="209.6" x2="623.20" y2="211.6" stroke="#1a1a1a" stroke-width="1.3"/>
<line x1="604.70" y1="209.6" x2="604.70" y2="213.0" stroke="#1a1a1a" stroke-width="1.3"/>
<line x1="586.20" y1="209.6" x2="586.20" y2="211.6" stroke="#1a1a1a" stroke-width="1.3"/>
<line x1="567.70" y1="209.6" x2="567.70" y2="213.0" stroke="#1a1a1a" stroke-width="1.3"/>
<line x1="549.20" y1="209.6" x2="549.20" y2="211.6" stroke="#1a1a1a" stroke-width="1.3"/>
<line x1="530.70" y1="209.6" x2="530.70" y2="213.0" stroke="#1a1a1a" stroke-width="1.3"/>
<line x1="512.20" y1="209.6" x2="512.20" y2="211.6" stroke="#1a1a1a" stroke-width="1.3"/>
<line x1="493.70" y1="209.6" x2="493.70" y2="213.0" stroke="#1a1a1a" stroke-width="1.3"/>
<line x1="475.20" y1="209.6" x2="475.20" y2="211.6" stroke="#1a1a1a" stroke-width="1.3"/>
<line x1="456.70" y1="209.6" x2="456.70" y2="213.0" stroke="#1a1a1a" stroke-width="1.3"/>
<line x1="438.20" y1="209.6" x2="438.20" y2="211.6" stroke="#1a1a1a" stroke-width="1.3"/>
<line x1="419.70" y1="209.6" x2="419.70" y2="213.0" stroke="#1a1a1a" stroke-width="1.3"/>
<line x1="401.20" y1="209.6" x2="401.20" y2="211.6" stroke="#1a1a1a" stroke-width="1.3"/>
<line x1="382.70" y1="209.6" x2="382.70" y2="213.0" stroke="#1a1a1a" stroke-width="1.3"/>
<text x="16.6" y="25.3" font-size="31" font-weight="bold" fill="#111" text-anchor="start" >a</text>
<text x="340.6" y="26.2" font-size="31" font-weight="bold" fill="#111" text-anchor="start" >b</text>
<text x="69.08" y="223.9" font-size="11.8" font-weight="bold" fill="#111" text-anchor="middle" >10</text>
<text x="100.43" y="223.9" font-size="11.8" font-weight="bold" fill="#111" text-anchor="middle" >20</text>
<text x="131.78" y="223.9" font-size="11.8" font-weight="bold" fill="#111" text-anchor="middle" >30</text>
<text x="163.14" y="223.9" font-size="11.8" font-weight="bold" fill="#111" text-anchor="middle" >40</text>
<text x="194.49" y="223.9" font-size="11.8" font-weight="bold" fill="#111" text-anchor="middle" >50</text>
<text x="225.84" y="223.9" font-size="11.8" font-weight="bold" fill="#111" text-anchor="middle" >60</text>
<text x="257.19" y="223.9" font-size="11.8" font-weight="bold" fill="#111" text-anchor="middle" >70</text>
<text x="288.55" y="223.9" font-size="11.8" font-weight="bold" fill="#111" text-anchor="middle" >80</text>
<text x="319.90" y="223.9" font-size="11.8" font-weight="bold" fill="#111" text-anchor="middle" >90</text>
<text x="641.70" y="225.3" font-size="12.2" font-weight="bold" fill="#111" text-anchor="middle" >500</text>
<text x="604.70" y="225.3" font-size="12.2" font-weight="bold" fill="#111" text-anchor="middle" >1000</text>
<text x="567.70" y="225.3" font-size="12.2" font-weight="bold" fill="#111" text-anchor="middle" >1500</text>
<text x="530.70" y="225.3" font-size="12.2" font-weight="bold" fill="#111" text-anchor="middle" >2000</text>
<text x="493.70" y="225.3" font-size="12.2" font-weight="bold" fill="#111" text-anchor="middle" >2500</text>
<text x="456.70" y="225.3" font-size="12.2" font-weight="bold" fill="#111" text-anchor="middle" >3000</text>
<text x="419.70" y="225.3" font-size="12.2" font-weight="bold" fill="#111" text-anchor="middle" >3500</text>
<text x="382.70" y="225.3" font-size="12.2" font-weight="bold" fill="#111" text-anchor="middle" >4000</text>
<text x="186.4" y="240.8" font-size="15.6" font-weight="bold" fill="#111" text-anchor="middle" >2 Theta(°)</text>
<text x="516.2" y="243.7" font-size="15.8" font-weight="bold" fill="#111" text-anchor="middle" >Wavenumber(cm<tspan font-size="10.5" dy="-5.8">-1</tspan><tspan dy="5.8">)</tspan></text>
<text x="0" y="0" font-size="20.5" font-weight="bold" fill="#111" text-anchor="middle" transform="translate(42.7 114.6) rotate(-90)">Intensity(a.u.)</text>
<text x="0" y="0" font-size="20.4" font-weight="bold" fill="#111" text-anchor="middle" transform="translate(372.2 118.3) rotate(-90)">Transmittance(%)</text>
<text x="247.0" y="46.7" font-size="15.4" font-weight="bold" fill="#111">AP/KP-2<tspan font-size="10.8" font-weight="normal" dx="0.7" dy="-6.1">#</tspan></text>
<text x="247.2" y="83.1" font-size="15.4" font-weight="bold" fill="#111">AP/KP-1<tspan font-size="10.8" font-weight="normal" dx="0.7" dy="-6.1">#</tspan></text>
<text x="267.3" y="120.9" font-size="14.8" font-weight="bold" fill="#111">KP</text>
<text x="268.1" y="159.1" font-size="14.8" font-weight="bold" fill="#111">AP</text>
<text x="218.4" y="182.6" font-size="11.35" font-weight="normal" fill="#f0913a" text-anchor="start" stroke="#f0913a" stroke-width="0.25">KP PDF#70-0488</text>
<text x="218.4" y="198.0" font-size="11.35" font-weight="normal" fill="#8a2be2" text-anchor="start" stroke="#8a2be2" stroke-width="0.25">AP PDF#70-2207</text>
<text x="477.8" y="41.5" font-size="15.4" font-weight="bold" fill="#111">AP/KP-2<tspan font-size="10.8" font-weight="normal" dx="0.7" dy="-6.1">#</tspan></text>
<text x="478.8" y="88.5" font-size="15.1" font-weight="bold" fill="#111">AP/KP-1<tspan font-size="10.8" font-weight="normal" dx="0.7" dy="-6.1">#</tspan></text>
<text x="498.1" y="135.7" font-size="14.8" font-weight="bold" fill="#111">KP</text>
<text x="496.7" y="172.3" font-size="14.8" font-weight="bold" fill="#111">AP</text>
<text x="438.4" y="200.9" font-size="10.5" font-weight="bold" fill="#111" text-anchor="start" >3250</text>
<text x="553.2" y="202.6" font-size="10.5" font-weight="bold" fill="#111" text-anchor="start" >1400</text>
<text x="579.9" y="202.6" font-size="10.5" font-weight="bold" fill="#111" text-anchor="start" >1040</text>
<text x="610" y="202.5" font-size="10.5" font-weight="bold" fill="#111" text-anchor="start" >930</text>
<text x="633.6" y="202.5" font-size="10.5" font-weight="bold" fill="#111" text-anchor="start" >625</text>
</svg>
</body></html>
